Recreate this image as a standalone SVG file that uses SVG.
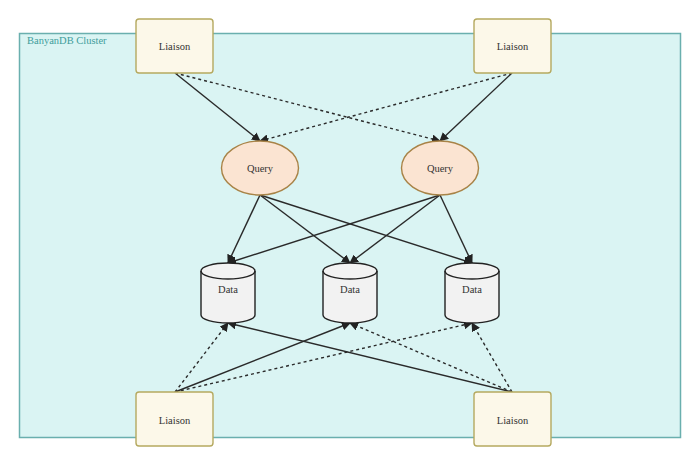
<svg xmlns="http://www.w3.org/2000/svg" width="700" height="466" viewBox="0 0 700 466">
<defs>
<marker id="ah" viewBox="0 0 10 10" refX="9" refY="5" markerWidth="9" markerHeight="9" markerUnits="userSpaceOnUse" orient="auto">
<path d="M0,0 L10,5 L0,10 z" fill="#222"/>
</marker>
<style>
text{font-family:"Liberation Serif","Times New Roman",serif;font-size:10.5px;fill:#333;text-anchor:middle;dominant-baseline:central}
.liaison{fill:#fcf8e9;stroke:#b5a95f;stroke-width:1.4}
.query{fill:#fbe4d2;stroke:#a88347;stroke-width:1.4}
.data{fill:#f2f2f2;stroke:#222;stroke-width:1.4}
.e{fill:none;stroke:#2a2a2a;stroke-width:1.4;marker-end:url(#ah)}
.d{stroke-dasharray:3,3}
</style>
</defs>
<rect width="700" height="466" fill="#ffffff"/>
<g id="cluster">
<rect x="19.5" y="33.5" width="661" height="404" fill="#daf4f3" stroke="#6aafae" stroke-width="1.5"/>
<text x="27" y="40" style="text-anchor:start;fill:#3f9d9b">BanyanDB Cluster</text>
</g>
<g id="edges">
<line class="e" x1="175" y1="73" x2="260" y2="141"/>
<line class="e d" x1="175" y1="73" x2="440" y2="141"/>
<line class="e" x1="512" y1="73" x2="440" y2="141"/>
<line class="e d" x1="512" y1="73" x2="260" y2="141"/>
<line class="e" x1="260" y1="195" x2="228" y2="263"/>
<line class="e" x1="260" y1="195" x2="350" y2="263"/>
<line class="e" x1="260" y1="195" x2="472" y2="263"/>
<line class="e" x1="440" y1="195" x2="228" y2="263"/>
<line class="e" x1="440" y1="195" x2="350" y2="263"/>
<line class="e" x1="440" y1="195" x2="472" y2="263"/>
<line class="e d" x1="175" y1="392" x2="228" y2="323"/>
<line class="e" x1="175" y1="392" x2="350" y2="323"/>
<line class="e d" x1="175" y1="392" x2="472" y2="323"/>
<line class="e" x1="512" y1="392" x2="228" y2="323"/>
<line class="e d" x1="512" y1="392" x2="350" y2="323"/>
<line class="e d" x1="512" y1="392" x2="472" y2="323"/>
</g>
<g id="liaison-tl">
<rect class="liaison" x="136" y="19" width="77" height="54" rx="3"/>
<text x="174.5" y="46">Liaison</text>
</g>
<g id="liaison-tr">
<rect class="liaison" x="474" y="19" width="77" height="54" rx="3"/>
<text x="512.5" y="46">Liaison</text>
</g>
<g id="query-l">
<ellipse class="query" cx="260" cy="168" rx="38.5" ry="27"/>
<text x="260" y="168">Query</text>
</g>
<g id="query-r">
<ellipse class="query" cx="440" cy="168" rx="38.5" ry="27"/>
<text x="440" y="168">Query</text>
</g>
<g id="data-1">
<path class="data" d="M201,271 A27,8 0 0 1 255,271 L255,315 A27,8 0 0 1 201,315 Z"/>
<path class="data" style="fill:none" d="M201,271 A27,8 0 0 0 255,271"/>
<text x="228" y="289">Data</text>
</g>
<g id="data-2">
<path class="data" d="M323,271 A27,8 0 0 1 377,271 L377,315 A27,8 0 0 1 323,315 Z"/>
<path class="data" style="fill:none" d="M323,271 A27,8 0 0 0 377,271"/>
<text x="350" y="289">Data</text>
</g>
<g id="data-3">
<path class="data" d="M445,271 A27,8 0 0 1 499,271 L499,315 A27,8 0 0 1 445,315 Z"/>
<path class="data" style="fill:none" d="M445,271 A27,8 0 0 0 499,271"/>
<text x="472" y="289">Data</text>
</g>
<g id="liaison-bl">
<rect class="liaison" x="136" y="392" width="77" height="54" rx="3"/>
<text x="174.5" y="420">Liaison</text>
</g>
<g id="liaison-br">
<rect class="liaison" x="474" y="392" width="77" height="54" rx="3"/>
<text x="512.5" y="420">Liaison</text>
</g>
</svg>
